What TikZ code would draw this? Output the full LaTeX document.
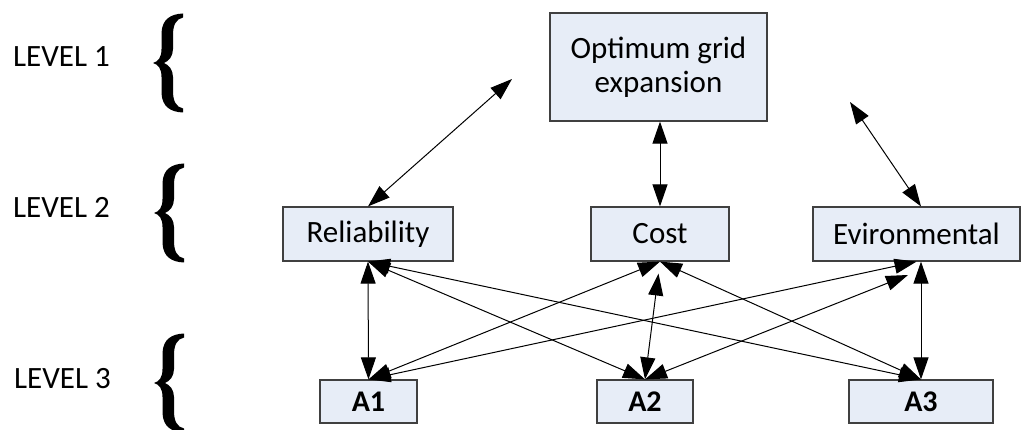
\documentclass[tikz,border=0pt]{standalone}
\usepackage{fontspec}
\setmainfont{Carlito}
\usetikzlibrary{arrows.meta}

\definecolor{boxfill}{RGB}{231,237,247}
\definecolor{boxline}{RGB}{64,64,64}

\tikzset{
  box/.style={draw=boxline, line width=1.2pt, fill=boxfill, inner sep=0pt,
    align=center, font=\fontsize{31}{34}\selectfont},
  altbox/.style={box, font=\fontsize{30}{34}\selectfont\bfseries},
  link/.style={line width=1pt,
    {Triangle[length=22pt,width=15pt]}-{Triangle[length=22pt,width=15pt]}},
  lvl/.style={anchor=base west, inner sep=0pt, font=\fontsize{31}{34}\selectfont},
  % curly brace drawn as a filled outline, tip at the origin
  levelbrace/.pic={
    \fill (30,49.5) .. controls (18,49) and (9,44) .. (8.5,30)
      -- (8.5,14)
      .. controls (8.5,5) and (5,1.5) .. (0,0)
      .. controls (5,-1.5) and (8.5,-5) .. (8.5,-14)
      -- (8.5,-30)
      .. controls (9,-44) and (18,-49) .. (30,-49.5)
      -- (30,-45.5)
      .. controls (23,-44) and (20,-38) .. (20,-28)
      -- (20,-14)
      .. controls (20,-7) and (16,-2) .. (11,0)
      .. controls (16,2) and (20,7) .. (20,14)
      -- (20,28)
      .. controls (20,38) and (23,44) .. (30,45.5)
      -- cycle;
  }
}

\begin{document}
\begin{tikzpicture}[x=1pt,y=1pt]
\useasboundingbox (0,0) rectangle (1021,429);

% level labels and braces
\node[lvl] (l1) at (13,362.3) {LEVEL 1};
\node[lvl] (l2) at (13,211) {LEVEL 2};
\node[lvl] (l3) at (14,41) {LEVEL 3};
\pic at (153,366) {levelbrace};
\pic at (154,216) {levelbrace};
\pic at (154,46) {levelbrace};

% goal
\node[box, minimum width=217, minimum height=108] (opt) at (658.5,362) {Optimum grid\\expansion};

% criteria
\node[box, minimum width=170, minimum height=54] (rel) at (368,195) {Reliability};
\node[box, minimum width=138, minimum height=54] (cost) at (660,195) {Cost};
\node[box, minimum width=207, minimum height=54] (env) at (916.5,195) {Evironmental};

% alternatives
\node[altbox, minimum width=97, minimum height=43] (a1) at (368.5,27.5) {A1};
\node[altbox, minimum width=96, minimum height=43] (a2) at (645,27.5) {A2};
\node[altbox, minimum width=144, minimum height=43] (a3) at (921,27.5) {A3};

% free ends of the open connectors
\coordinate (relfree) at (512,350);
\coordinate (envfree) at (850,327);
\coordinate (envgap) at (908,154);

% goal to criteria
\draw[link] (rel.north) -- (relfree);
\draw[link] (cost.north) -- (cost.north |- opt.south);
\draw[link] (env.north -| a3.north) -- (envfree);

% criteria to alternatives
\draw[link] (rel.south) -- (a1.north);
\draw[link] (rel.south) -- (a2.north);
\draw[link] (rel.south) -- (a3.north);
\draw[link] (cost.south) -- (a1.north);
\draw[link, shorten <=12pt] (cost.south) -- (a2.north);
\draw[link] (cost.south) -- (a3.north);
\draw[link] (env.south) -- (a1.north);
\draw[link] (envgap) -- (a2.north);
\draw[link] (a3.north) -- (a3.north |- env.south);
\end{tikzpicture}
\end{document}
